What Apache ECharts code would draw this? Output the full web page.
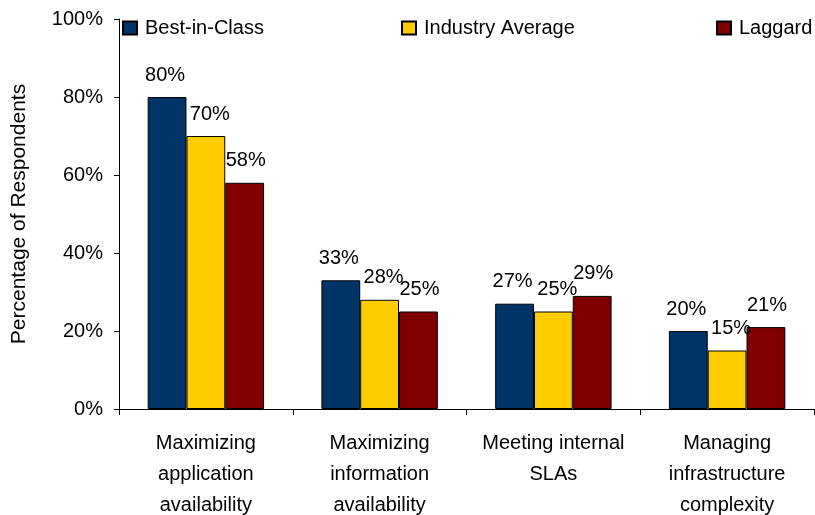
<!DOCTYPE html>
<html>
<head>
<meta charset="utf-8">
<script src="https://cdn.jsdelivr.net/npm/echarts@6/dist/echarts.min.js"></script>
<style>
html,body{margin:0;padding:0;background:#fff;}
#chart{width:815px;height:515px;}
</style>
</head>
<body>
<div id="chart"></div>
<script>
var categories = [
  "Maximizing\napplication\navailability",
  "Maximizing\ninformation\navailability",
  "Meeting internal\nSLAs",
  "Managing\ninfrastructure\ncomplexity"
];
var seriesNames = ["Best-in-Class", "Industry Average", "Laggard"];
var bestInClass = [80, 33, 27, 20];
var industryAverage = [70, 28, 25, 15];
var laggard = [58, 25, 29, 21];
var yTicks = [0, 20, 40, 60, 80, 100];

var FONT = "'Liberation Sans', Arial, sans-serif";
var colors = ["#003366", "#FFCC00", "#800000"];
var seriesData = [bestInClass, industryAverage, laggard];
var labelOffsets = [[-2, 0], [4, 0], [1, 0]];

var chart = echarts.init(document.getElementById('chart'), null, {renderer: 'canvas'});

var legendLefts = [122, 401, 716];
var legends = seriesNames.map(function (n, i) {
  return {
    data: [n],
    left: legendLefts[i],
    top: 18,
    icon: 'rect',
    itemWidth: 14,
    itemHeight: 13,
    itemGap: 0,
    padding: 0,
    textStyle: {fontFamily: FONT, fontSize: 20, color: '#000', padding: [0, 0, 0, 3]}
  };
});

var option = {
  animation: false,
  backgroundColor: '#fff',
  legend: legends,
  grid: {left: 119, right: 1, top: 19, bottom: 106, containLabel: false, outerBoundsMode: 'none'},
  xAxis: {
    type: 'category',
    data: categories,
    axisLine: {lineStyle: {color: '#000', width: 1}},
    axisTick: {show: true, length: 6, lineStyle: {color: '#000'}},
    axisLabel: {
      interval: 0,
      fontFamily: FONT,
      fontSize: 20,
      color: '#000',
      lineHeight: 31,
      margin: 19
    }
  },
  yAxis: {
    type: 'value',
    min: yTicks[0],
    max: yTicks[yTicks.length - 1],
    interval: yTicks[1] - yTicks[0],
    name: 'Percentage of Respondents',
    nameLocation: 'middle',
    nameRotate: 90,
    nameGap: 89,
    nameTextStyle: {fontFamily: FONT, fontSize: 21, color: '#000'},
    axisLine: {show: true, lineStyle: {color: '#000', width: 1}},
    axisTick: {show: true, length: 5, lineStyle: {color: '#000'}},
    splitLine: {show: false},
    axisLabel: {
      formatter: '{value}%',
      fontFamily: FONT,
      fontSize: 20,
      color: '#000',
      margin: 16
    }
  },
  series: seriesNames.map(function (n, i) {
    return {
      name: n,
      type: 'bar',
      data: seriesData[i],
      barGap: '0%',
      barCategoryGap: '33%',
      itemStyle: {color: colors[i], borderColor: '#000', borderWidth: 1},
      label: {
        show: true,
        position: 'top',
        distance: 12,
        offset: labelOffsets[i],
        formatter: '{c}%',
        fontFamily: FONT,
        fontSize: 20,
        color: '#000'
      }
    };
  })
};
chart.setOption(option);
</script>
</body>
</html>
